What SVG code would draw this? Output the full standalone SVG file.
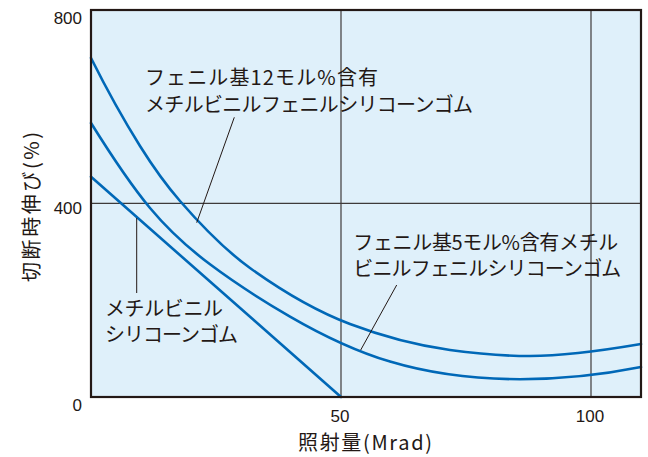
<svg xmlns="http://www.w3.org/2000/svg" width="648" height="457" viewBox="0 0 648 457">
<style>
.lbl{font-family:"Noto Sans CJK JP","Noto Sans",sans-serif;font-size:20px;fill:#231815}
.tick{font-family:"Liberation Sans",Arial,sans-serif;font-size:17px;fill:#231815}
.curve{fill:none;stroke:#0068b7;stroke-width:2.6;stroke-linecap:round}
.grid{stroke:#3e3a39;stroke-width:1.2}
.leader{stroke:#231815;stroke-width:1}
</style>
<rect width="648" height="457" fill="#ffffff"/>
<g id="plot-area">
<rect x="91" y="10" width="550" height="387" fill="#dff0fa"/>
</g>
<g id="grid">
<line class="grid" x1="341" y1="10" x2="341" y2="397"/>
<line class="grid" x1="591" y1="10" x2="591" y2="397"/>
<line class="grid" x1="91" y1="203.3" x2="641" y2="203.3"/>
</g>
<g id="connectors">
<path id="curve-phenyl12" class="curve" d="M91,58 C107.33,90.67 123.67,119.87 140,146 C153.33,167.33 166.67,185.67 180,201 C203.33,227.83 226.67,251.2 250,268 C283.33,292 316.67,311.33 350,324 C383.33,336.67 416.67,345.33 450,350 C476.67,353.73 503.33,356 530,356 C567,356 604,350.3 641,344"/>
<path id="curve-phenyl5" class="curve" d="M91,123 C110.67,154.47 130.33,184.4 150,208 C170,232 190,249.3 210,264.3 C236.67,284.3 263.33,301.1 290,316.6 C323.33,335.93 356.67,351.6 390,361.6 C433.33,374.6 476.67,379.2 520,379.2 C560.33,379.2 600.67,375.07 641,367"/>
<line id="line-methylvinyl" class="curve" x1="91" y1="176.7" x2="341" y2="397"/>
<line class="leader" x1="234.3" y1="117.3" x2="196.7" y2="222.7"/>
<line class="leader" x1="396.7" y1="285" x2="360.7" y2="350"/>
<line class="leader" x1="136.7" y1="218" x2="136.7" y2="293"/>
</g>
<g id="frame">
<rect x="91" y="10" width="550" height="387" fill="none" stroke="#231815" stroke-width="2.2"/>
</g>
<g id="node-phenyl12">
<text class="lbl"><tspan x="145" y="85" textLength="233" lengthAdjust="spacing">フェニル基12モル%含有</tspan><tspan x="145" y="111.5" textLength="328" lengthAdjust="spacing">メチルビニルフェニルシリコーンゴム</tspan></text>
</g>
<g id="node-phenyl5">
<text class="lbl"><tspan x="353.3" y="249.5" textLength="265" lengthAdjust="spacing">フェニル基5モル%含有メチル</tspan><tspan x="353.3" y="276" textLength="268" lengthAdjust="spacing">ビニルフェニルシリコーンゴム</tspan></text>
</g>
<g id="node-methylvinyl">
<text class="lbl"><tspan x="105" y="315.5" textLength="118" lengthAdjust="spacing">メチルビニル</tspan><tspan x="105" y="342" textLength="133" lengthAdjust="spacing">シリコーンゴム</tspan></text>
</g>
<g id="axes-labels">
<text class="tick" x="82" y="24" text-anchor="end">800</text>
<text class="tick" x="82" y="214" text-anchor="end">400</text>
<text class="tick" x="82" y="411" text-anchor="end">0</text>
<text class="tick" x="340" y="422" text-anchor="middle">50</text>
<text class="tick" x="590" y="422" text-anchor="middle">100</text>
<text class="lbl" x="365" y="450" text-anchor="middle" textLength="134" lengthAdjust="spacing">照射量(Mrad)</text>
<text class="lbl" transform="translate(38.5,207) rotate(-90)" x="0" y="0" text-anchor="middle" textLength="150" lengthAdjust="spacing">切断時伸び(%)</text>
</g>
</svg>
